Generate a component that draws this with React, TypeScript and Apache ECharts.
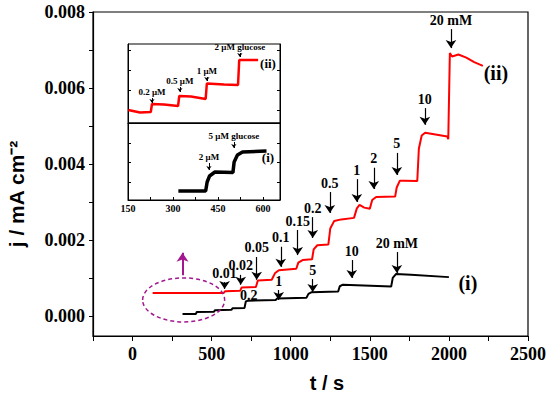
import React, { useEffect, useRef } from "react";
import * as echarts from "echarts";

// ---------- main chart data ----------
const redTime = [127, 575, 586, 680, 690, 780, 792, 880, 900, 925, 1035, 1048, 1075, 1135, 1145, 1168, 1238, 1250, 1275, 1320, 1400, 1418, 1435, 1465, 1500, 1515, 1540, 1660, 1670, 1690, 1720, 1800, 1810, 1828, 1850, 1990, 1996, 2006, 2020, 2060, 2110, 2160, 2215];
const redCurrent = [0.0006, 0.0006, 0.00065, 0.00066, 0.00075, 0.00076, 0.00093, 0.00095, 0.00112, 0.0012, 0.00124, 0.0014, 0.00147, 0.00149, 0.00175, 0.00186, 0.00188, 0.0023, 0.0025, 0.00254, 0.00258, 0.00283, 0.00292, 0.00285, 0.00282, 0.00305, 0.00313, 0.00314, 0.00338, 0.00356, 0.00356, 0.00355, 0.0044, 0.00475, 0.00482, 0.00472, 0.00465, 0.00692, 0.00683, 0.00688, 0.0068, 0.00668, 0.00658];

const blackTime = [316, 400, 406, 515, 522, 625, 632, 708, 716, 730, 905, 915, 1100, 1112, 1130, 1300, 1310, 1330, 1635, 1645, 1665, 1760, 2000];
const blackCurrent = [0.00005, 0.00005, 0.0001, 0.00011, 0.00015, 0.00016, 0.0002, 0.00021, 0.00038, 0.0004, 0.00042, 0.00046, 0.00048, 0.00058, 0.00062, 0.00064, 0.00078, 0.00082, 0.00077, 0.001, 0.0011, 0.00108, 0.00102];

// arrows on curve (ii)
const redArrowLabels = ["0.01", "0.02", "0.05", "0.1", "0.15", "0.2", "0.5", "1", "2", "5", "10", "20 mM"];
const redArrowTime = [582, 684, 785, 937, 1044, 1139, 1247, 1418, 1525, 1671, 1848, 2013];
const redArrowFrom = [0.00089, 0.00108, 0.00155, 0.00182, 0.00226, 0.0026, 0.00326, 0.0036, 0.0039, 0.00429, 0.00547, 0.00755];
const redArrowTo = [0.00071, 0.00082, 0.00095, 0.00129, 0.0016, 0.00205, 0.00271, 0.003, 0.00334, 0.00371, 0.00503, 0.00705];

// arrows on curve (i)
const blackArrowLabels = ["1", "5", "10", "20 mM"];
const blackArrowTime = [924, 1139, 1386, 1671];
const blackArrowFrom = [0.00068, 0.00097, 0.00147, 0.00168];
const blackArrowTo = [0.00042, 0.00063, 0.001, 0.00113];

// magenta marker (ellipse + arrow) around the baseline of (ii)
const ellipseCenter = [323, 0.00042];
const magentaArrowTime = 316;
const magentaArrowFrom = 0.00107;
const magentaArrowTo = 0.00166;

const xLabelValues = [0, 500, 1000, 1500, 2000, 2500];
const yLabelValues = [0, 0.002, 0.004, 0.006, 0.008];
const yTickValues = [0, 0.001, 0.002, 0.003, 0.004, 0.005, 0.006, 0.007, 0.008];

// ---------- inset data ----------
const insetRedTime = [151, 190, 226, 230, 270, 317, 321, 360, 409, 413, 470, 517, 521, 584];
const insetRedSignal = [1.3, 1.05, 1.1, 1.9, 1.85, 1.7, 2.7, 2.65, 2.4, 3.95, 3.85, 3.8, 6.3, 6.3];
const insetBlackTime = [318, 409, 414, 422, 440, 500, 504, 515, 532, 612];
const insetBlackSignal = [0.9, 0.9, 1.8, 2.4, 2.8, 2.75, 3.8, 4.5, 4.8, 4.9];

const insetRedLabels = ["0.2 \u03bcM", "0.5 \u03bcM", "1 \u03bcM", "2 \u03bcM glucose"];
const insetRedArrowTime = [230, 323, 413, 523];
const insetRedArrowFrom = [2.5, 3.6, 4.6, 7.0];
const insetRedArrowTo = [2.0, 3.1, 4.2, 6.6];
const insetBlackLabels = ["2 \u03bcM", "5 \u03bcM glucose"];
const insetBlackArrowTime = [420, 503];
const insetBlackArrowFrom = [3.7, 5.8];
const insetBlackArrowTo = [3.0, 5.2];

const insetTopTicks = [1.3, 3.3, 5.3, 7.3];
const insetBottomTicks = [1.8, 3.8, 5.7];

const SERIF = "'Liberation Serif', 'Times New Roman', serif";
const SANS = "'Liberation Sans', Arial, sans-serif";
const MAGENTA = "#a3178f";

function zip(a: number[], b: number[]) {
  return a.map((v, i) => [v, b[i]]);
}

function arrowLines(labels: string[], t: number[], from: number[], to: number[], head: number, color: string) {
  return labels.map((name, i) => [
    { name, coord: [t[i], from[i]], symbol: "none", symbolSize: 0, lineStyle: { color } },
    { coord: [t[i], to[i]], symbol: "arrow", symbolSize: head, itemStyle: { color } },
  ]);
}

function textPoint(name: string, coord: number[], size: number) {
  return {
    name,
    coord,
    symbol: "circle",
    symbolSize: 1,
    itemStyle: { color: "rgba(0,0,0,0)" },
    label: {
      show: true,
      position: "inside",
      formatter: "{b}",
      color: "#000",
      fontFamily: SERIF,
      fontWeight: "bold",
      fontSize: size,
    },
  };
}

function markLineOpt(data: any[], fontSize: number, head: number, width: number) {
  return {
    silent: true,
    symbol: ["none", "arrow"],
    symbolSize: head,
    animation: false,
    lineStyle: { color: "#000", width, type: "solid" },
    itemStyle: { color: "#000" },
    label: {
      show: true,
      position: "start",
      formatter: "{b}",
      color: "#000",
      fontFamily: SERIF,
      fontWeight: "bold",
      fontSize,
      distance: 2,
    },
    emphasis: { disabled: true },
    data,
  };
}

export default function App() {
  const ref = useRef<HTMLDivElement>(null);
  useEffect(() => {
    if (!ref.current) return;
    const chart = echarts.init(ref.current, undefined, { renderer: "svg" });

    const insetXAxisBase = {
      type: "value",
      min: 150,
      max: 657,
      interval: 75,
      axisLine: { show: true, lineStyle: { color: "#000", width: 1 } },
      splitLine: { show: false },
    };

    const option: any = {
      animation: false,
      backgroundColor: "#fff",
      grid: [
        { left: 93, top: 12, width: 435, height: 324, show: true, borderColor: "#000", borderWidth: 1.2, backgroundColor: "transparent" },
        { left: 128, top: 44, width: 152, height: 79, show: true, borderColor: "#000", borderWidth: 1, backgroundColor: "#fff" },
        { left: 128, top: 123, width: 152, height: 77, show: true, borderColor: "#000", borderWidth: 1, backgroundColor: "#fff" },
      ],
      xAxis: [
        {
          type: "value",
          gridIndex: 0,
          min: -250,
          max: 2500,
          interval: 250,
          axisLine: { show: true, onZero: false, lineStyle: { color: "#000", width: 1.2 } },
          axisTick: { show: true, length: 5, lineStyle: { color: "#000", width: 1 } },
          axisLabel: {
            color: "#000",
            fontFamily: SERIF,
            fontWeight: "bold",
            fontSize: 18,
            margin: 9,
            formatter: (v: number) => (xLabelValues.indexOf(v) >= 0 ? String(v) : ""),
          },
          splitLine: { show: false },
        },
        {
          ...insetXAxisBase,
          gridIndex: 1,
          axisTick: { show: false },
          axisLabel: { show: false },
        },
        {
          ...insetXAxisBase,
          gridIndex: 2,
          axisTick: { show: true, inside: true, length: 3, lineStyle: { color: "#000" } },
          axisLabel: {
            color: "#000",
            fontFamily: SERIF,
            fontWeight: "bold",
            fontSize: 10,
            margin: 3,
            formatter: (v: number) => (v % 150 === 0 ? String(v) : ""),
          },
        },
      ],
      yAxis: [
        {
          type: "value",
          gridIndex: 0,
          min: -0.00053,
          max: 0.008,
          axisLine: { show: true, onZero: false, lineStyle: { color: "#000", width: 1.2 } },
          axisTick: { show: true, length: 4, customValues: yTickValues, lineStyle: { color: "#000" } },
          axisLabel: {
            color: "#000",
            fontFamily: SERIF,
            fontWeight: "bold",
            fontSize: 18,
            margin: 8,
            customValues: yLabelValues,
            formatter: (v: number) => v.toFixed(3),
          },
          splitLine: { show: false },
        },
        {
          type: "value", gridIndex: 1, min: 0, max: 7.9, position: "left",
          axisLine: { show: true, lineStyle: { color: "#000" } },
          axisTick: { show: true, inside: true, length: 3, customValues: insetTopTicks, lineStyle: { color: "#000" } },
          axisLabel: { show: false }, splitLine: { show: false },
        },
        {
          type: "value", gridIndex: 1, min: 0, max: 7.9, position: "right",
          axisLine: { show: true, lineStyle: { color: "#000" } },
          axisTick: { show: true, inside: true, length: 3, customValues: insetTopTicks, lineStyle: { color: "#000" } },
          axisLabel: { show: false }, splitLine: { show: false },
        },
        {
          type: "value", gridIndex: 2, min: 0, max: 7.7, position: "left",
          axisLine: { show: true, lineStyle: { color: "#000" } },
          axisTick: { show: true, inside: true, length: 3, customValues: insetBottomTicks, lineStyle: { color: "#000" } },
          axisLabel: { show: false }, splitLine: { show: false },
        },
        {
          type: "value", gridIndex: 2, min: 0, max: 7.7, position: "right",
          axisLine: { show: true, lineStyle: { color: "#000" } },
          axisTick: { show: true, inside: true, length: 3, customValues: insetBottomTicks, lineStyle: { color: "#000" } },
          axisLabel: { show: false }, splitLine: { show: false },
        },
      ],
      series: [
        {
          name: "(ii)",
          type: "line",
          xAxisIndex: 0,
          yAxisIndex: 0,
          data: zip(redTime, redCurrent),
          showSymbol: false,
          symbol: "none",
          lineStyle: { color: "#ff0000", width: 2 },
          itemStyle: { color: "#ff0000" },
          markLine: markLineOpt(
            [
              ...arrowLines(redArrowLabels, redArrowTime, redArrowFrom, redArrowTo, 8, "#000"),
              [
                { name: "", coord: [magentaArrowTime, magentaArrowFrom], symbol: "none", symbolSize: 0, lineStyle: { color: MAGENTA, width: 2 } },
                { coord: [magentaArrowTime, magentaArrowTo], symbol: "arrow", symbolSize: 9, itemStyle: { color: MAGENTA } },
              ],
            ],
            14,
            8,
            1.2
          ),
          markPoint: {
            silent: true,
            animation: false,
            data: [textPoint("(ii)", [2297, 0.0064], 20)],
          },
        },
        {
          name: "(i)",
          type: "line",
          xAxisIndex: 0,
          yAxisIndex: 0,
          data: zip(blackTime, blackCurrent),
          showSymbol: false,
          symbol: "none",
          lineStyle: { color: "#000", width: 2 },
          itemStyle: { color: "#000" },
          markLine: markLineOpt(arrowLines(blackArrowLabels, blackArrowTime, blackArrowFrom, blackArrowTo, 8, "#000"), 14, 8, 1.2),
          markPoint: {
            silent: true,
            animation: false,
            data: [textPoint("(i)", [2120, 0.00087], 20), textPoint("0.2", [734, 0.00053], 14)],
          },
        },
        {
          name: "inset (ii)",
          type: "line",
          xAxisIndex: 1,
          yAxisIndex: 1,
          data: zip(insetRedTime, insetRedSignal),
          showSymbol: false,
          symbol: "none",
          lineStyle: { color: "#ff0000", width: 2.5 },
          itemStyle: { color: "#ff0000" },
          markLine: markLineOpt(arrowLines(insetRedLabels, insetRedArrowTime, insetRedArrowFrom, insetRedArrowTo, 4, "#000"), 9, 4, 1),
          markPoint: { silent: true, animation: false, data: [textPoint("(ii)", [617, 6.0], 13)] },
        },
        {
          name: "inset (i)",
          type: "line",
          xAxisIndex: 2,
          yAxisIndex: 3,
          data: zip(insetBlackTime, insetBlackSignal),
          showSymbol: false,
          symbol: "none",
          lineStyle: { color: "#000", width: 3.5 },
          itemStyle: { color: "#000" },
          markLine: markLineOpt(arrowLines(insetBlackLabels, insetBlackArrowTime, insetBlackArrowFrom, insetBlackArrowTo, 4, "#000"), 9, 4, 1),
          markPoint: { silent: true, animation: false, data: [textPoint("(i)", [617, 4.3], 13)] },
        },
      ],
      graphic: [
        {
          type: "text",
          x: 16,
          y: 194,
          rotation: Math.PI / 2,
          style: {
            text: "j / mA cm\u207b\u00b2",
            font: "bold 21px " + SANS,
            fill: "#000",
            textAlign: "center",
            textVerticalAlign: "middle",
          },
        },
        {
          type: "text",
          x: 327,
          y: 383,
          style: {
            text: "t / s",
            font: "bold 20px " + SANS,
            fill: "#000",
            textAlign: "center",
            textVerticalAlign: "middle",
          },
        },
      ],
    };

    chart.setOption(option);

    const c = chart.convertToPixel({ gridIndex: 0 }, ellipseCenter) as number[];
    chart.setOption({
      graphic: [
        option.graphic[0],
        option.graphic[1],
        {
          type: "ellipse",
          shape: { cx: c[0], cy: c[1], rx: 41, ry: 22 },
          style: { fill: "none", stroke: MAGENTA, lineWidth: 1.5, lineDash: [4, 3] },
          z: 10,
        },
      ],
    });

    return () => chart.dispose();
  }, []);

  return (
    <div
      ref={ref}
      style={{ position: "fixed", left: 0, top: 0, width: 550, height: 394 }}
    />
  );
}
